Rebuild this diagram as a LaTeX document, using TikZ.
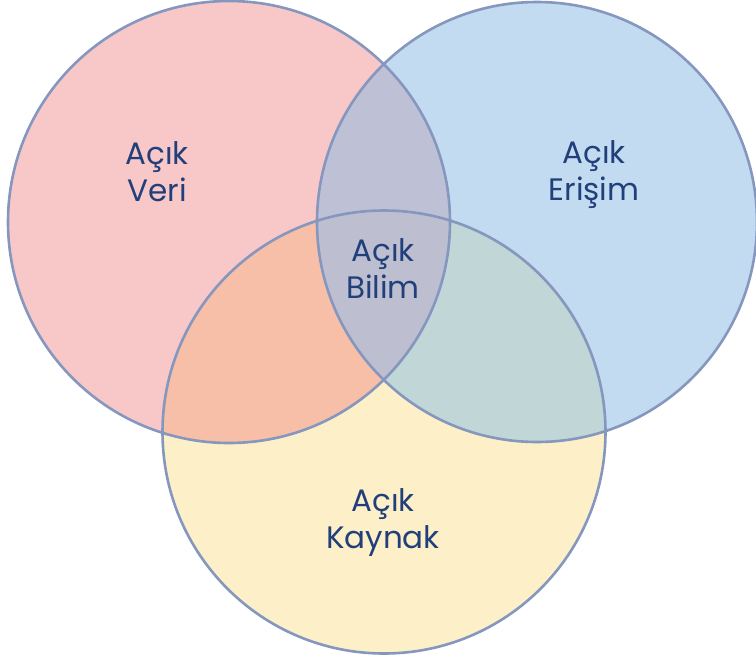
\documentclass[tikz,border=0pt]{standalone}
\usepackage{fontspec}
\setmainfont{Poppins}
\definecolor{redF}{HTML}{F8C8C9}
\definecolor{blueF}{HTML}{C2DBF0}
\definecolor{yelF}{HTML}{FDEFC8}
\definecolor{rbF}{HTML}{BEC0D5}
\definecolor{ryF}{HTML}{F7BFA7}
\definecolor{byF}{HTML}{C1D6D6}
\definecolor{allF}{HTML}{BDBECF}
\definecolor{edge}{HTML}{8597BF}
\definecolor{txt}{HTML}{213F7A}
\tikzset{
  ring/.style={draw=edge, line width=2.6pt},
  lbl/.style={text=txt, align=center, inner sep=0pt, font=\fontsize{31}{37}\selectfont}
}
\begin{document}
\begin{tikzpicture}[x=1pt,y=-1pt]
\useasboundingbox (0,0) rectangle (756,662);
\def\R{(229,222) circle[radius=221]}
\def\B{(537,222) circle[radius=220]}
\def\Y{(384,432) circle[radius=221.5]}
\fill[redF] \R;
\fill[blueF] \B;
\fill[yelF] \Y;
\begin{scope}\clip \R; \fill[rbF] \B; \end{scope}
\begin{scope}\clip \R; \fill[ryF] \Y; \end{scope}
\begin{scope}\clip \B; \fill[byF] \Y; \end{scope}
\begin{scope}\clip \R; \clip \B; \fill[allF] \Y; \end{scope}
\draw[ring] \R;
\draw[ring] \B;
\draw[ring] \Y;
\node[lbl] (veri) at (157,172) {Açık\\Veri};
\node[lbl] (erisim) at (594,175) {Açık\\Erişim};
\node[lbl] (bilim) at (383,269) {Açık\\Bilim};
\node[lbl] (kaynak) at (383,523) {Açık\\Kaynak};
\end{tikzpicture}
\end{document}
